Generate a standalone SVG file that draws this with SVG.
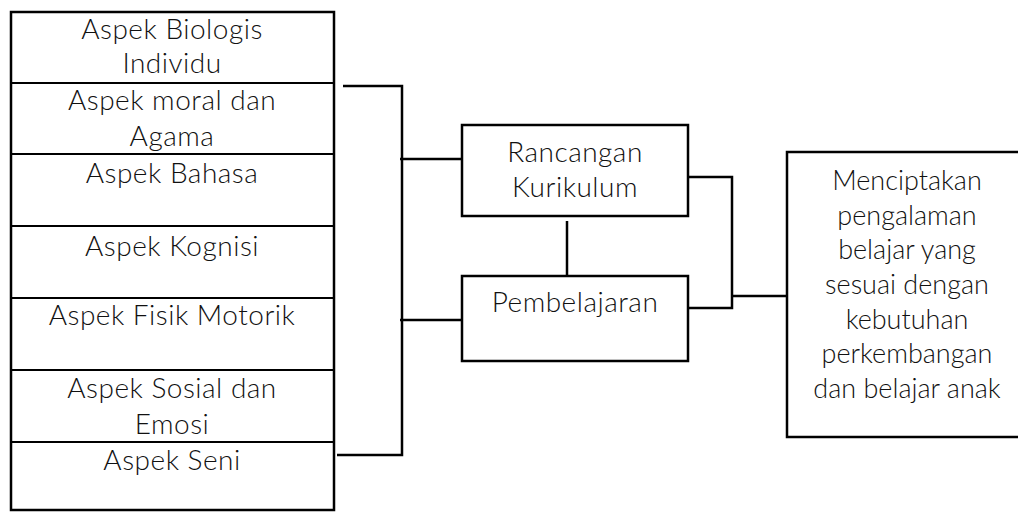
<svg xmlns="http://www.w3.org/2000/svg" width="1018" height="512" viewBox="0 0 1018 512">
  <style>
    .box { fill: #fff; stroke: #000; stroke-width: 2.5; }
    .sep { stroke: #000; stroke-width: 2; }
    .wire { fill: none; stroke: #000; stroke-width: 2.5; }
    .lbl { font-family: Lato, "Liberation Sans", sans-serif; font-weight: 300; font-size: 28px; letter-spacing: 0.5px; fill: #111; text-anchor: middle; }
    .tight { letter-spacing: 0; font-size: 27px; }
  </style>
  <rect width="1018" height="512" fill="#fff"/>

  <!-- column of aspects -->
  <g id="aspects">
    <rect class="box" x="11" y="12" width="323" height="498"/>
    <line class="sep" x1="11" y1="83" x2="334" y2="83"/>
    <line class="sep" x1="11" y1="154" x2="334" y2="154"/>
    <line class="sep" x1="11" y1="226" x2="334" y2="226"/>
    <line class="sep" x1="11" y1="298" x2="334" y2="298"/>
    <line class="sep" x1="11" y1="370" x2="334" y2="370"/>
    <line class="sep" x1="11" y1="442" x2="334" y2="442"/>
  </g>
  <g id="aspek-biologis"><text class="lbl" x="172" y="39">Aspek Biologis</text><text class="lbl" x="172" y="73">Individu</text></g>
  <g id="aspek-moral"><text class="lbl" x="172" y="110">Aspek moral dan</text><text class="lbl" x="172" y="146">Agama</text></g>
  <g id="aspek-bahasa"><text class="lbl" x="172" y="183">Aspek Bahasa</text></g>
  <g id="aspek-kognisi"><text class="lbl" x="172" y="256">Aspek Kognisi</text></g>
  <g id="aspek-fisik"><text class="lbl" x="172" y="325">Aspek Fisik Motorik</text></g>
  <g id="aspek-sosial"><text class="lbl" x="172" y="398">Aspek Sosial dan</text><text class="lbl" x="172" y="434">Emosi</text></g>
  <g id="aspek-seni"><text class="lbl" x="172" y="470">Aspek Seni</text></g>

  <!-- middle boxes -->
  <g id="rancangan">
    <rect class="box" x="462" y="125" width="226" height="91"/>
    <text class="lbl" x="575" y="162">Rancangan</text>
    <text class="lbl" x="575" y="197">Kurikulum</text>
  </g>
  <g id="pembelajaran">
    <rect class="box" x="462" y="276" width="226" height="85"/>
    <text class="lbl" x="575" y="312">Pembelajaran</text>
  </g>

  <!-- outcome box -->
  <g id="hasil">
    <rect class="box" x="787" y="152" width="240" height="285"/>
    <text class="lbl tight" x="907" y="190">Menciptakan</text>
    <text class="lbl tight" x="907" y="225">pengalaman</text>
    <text class="lbl tight" x="907" y="259">belajar yang</text>
    <text class="lbl tight" x="907" y="294">sesuai dengan</text>
    <text class="lbl tight" x="907" y="329">kebutuhan</text>
    <text class="lbl tight" x="907" y="363">perkembangan</text>
    <text class="lbl tight" x="907" y="398">dan belajar anak</text>
  </g>

  <!-- connectors -->
  <g id="connectors">
    <polyline class="wire" points="343,86 402,86 402,455 337,455"/>
    <line class="wire" x1="400" y1="159" x2="462" y2="159"/>
    <line class="wire" x1="400" y1="320" x2="462" y2="320"/>
    <line class="wire" x1="567" y1="221" x2="567" y2="276"/>
    <polyline class="wire" points="688,177 732,177 732,308 688,308"/>
    <line class="wire" x1="732" y1="296" x2="787" y2="296"/>
  </g>
</svg>
